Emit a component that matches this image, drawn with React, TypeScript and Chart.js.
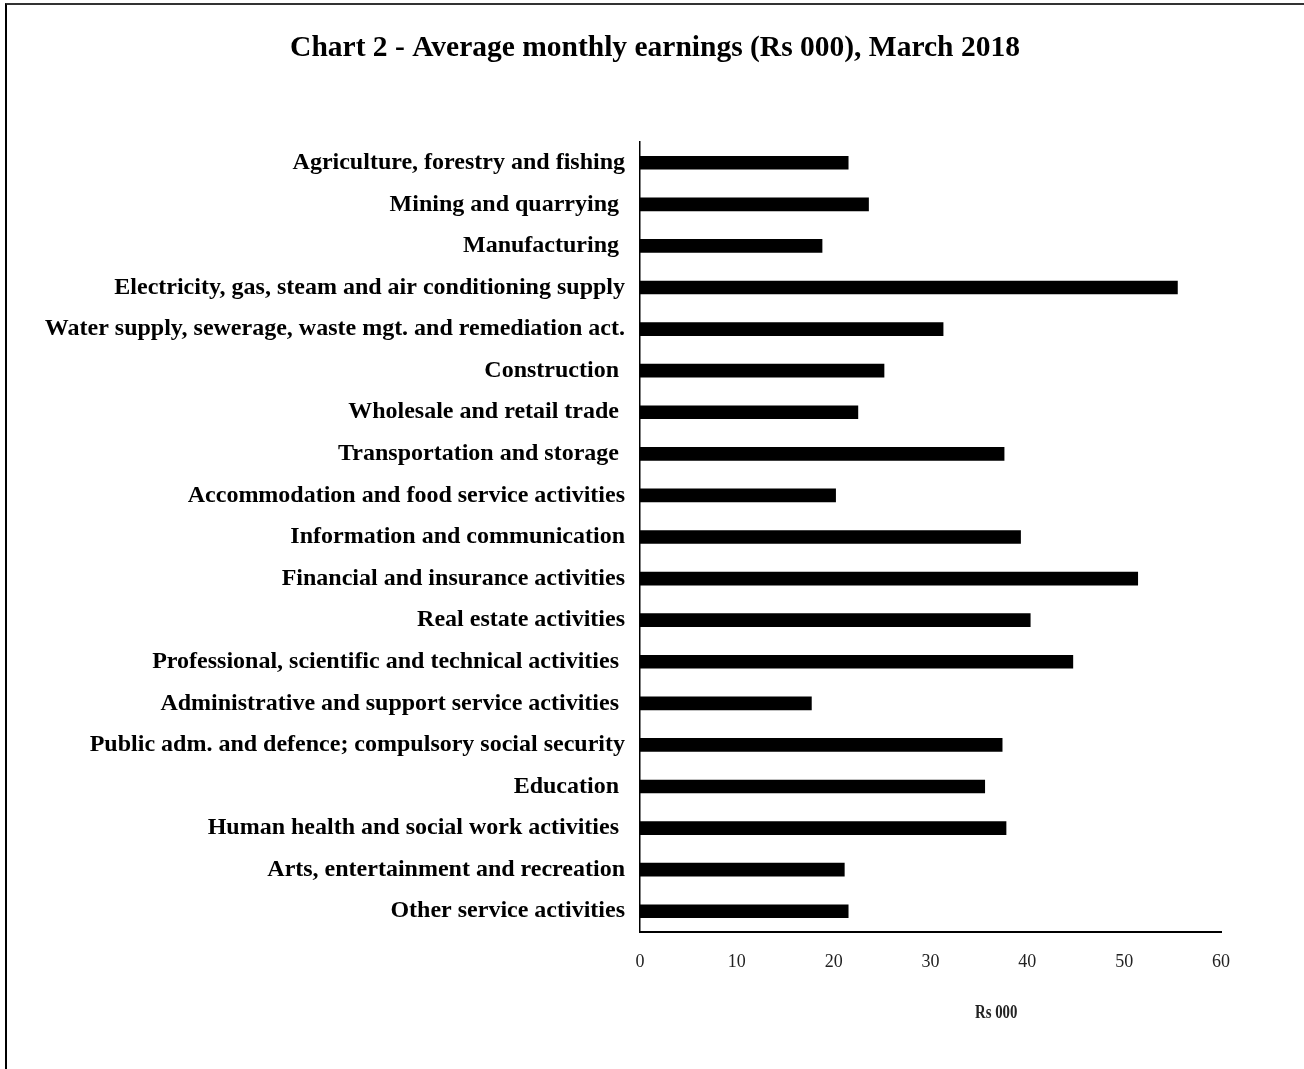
import React, { useEffect, useRef } from "react";
import { Chart, registerables } from "chart.js";

Chart.register(...registerables);

const TITLE = "Chart 2 - Average monthly earnings (Rs 000), March 2018";
const AXIS_TITLE = "Rs 000";

const categories: string[] = [
  "Agriculture, forestry and fishing",
  "Mining and quarrying ",
  "Manufacturing ",
  "Electricity, gas, steam and air conditioning supply",
  "Water supply, sewerage, waste mgt. and remediation act.",
  "Construction ",
  "Wholesale and retail trade ",
  "Transportation and storage ",
  "Accommodation and food service activities",
  "Information and communication",
  "Financial and insurance activities",
  "Real estate activities",
  "Professional, scientific and technical activities ",
  "Administrative and support service activities ",
  "Public adm. and defence; compulsory social security",
  "Education ",
  "Human health and social work activities ",
  "Arts, entertainment and recreation",
  "Other service activities",
];

const earnings: number[] = [
  21.5, 23.6, 18.8, 55.5, 31.3, 25.2, 22.5, 37.6, 20.2, 39.3, 51.4, 40.3, 44.7,
  17.7, 37.4, 35.6, 37.8, 21.1, 21.5,
];

const xTicks: number[] = [0, 10, 20, 30, 40, 50, 60];

const SERIF = "'Liberation Serif', 'Times New Roman', serif";

const textPlugin = {
  id: "extraText",
  afterDraw(chart: any) {
    const { ctx, chartArea } = chart;
    ctx.save();
    ctx.font = `bold 29.5px ${SERIF}`;
    ctx.fillStyle = "#000";
    ctx.textAlign = "center";
    ctx.textBaseline = "middle";
    ctx.fillText(TITLE, 655, 48);
    ctx.restore();

    ctx.save();
    ctx.font = `bold 19px ${SERIF}`;
    ctx.fillStyle = "#222";
    ctx.textAlign = "center";
    ctx.textBaseline = "middle";
    const x = chartArea.left + (chartArea.right - chartArea.left) * 0.613;
    ctx.translate(x, chartArea.bottom + 81);
    ctx.scale(0.78, 1);
    ctx.fillText(AXIS_TITLE, 0, 0);
    ctx.restore();
  },
};

export default function App() {
  const canvasRef = useRef<HTMLCanvasElement | null>(null);

  useEffect(() => {
    if (!canvasRef.current) return;
    const chart = new Chart(canvasRef.current, {
      type: "bar",
      data: {
        labels: categories,
        datasets: [
          {
            data: earnings,
            backgroundColor: "#000",
            borderWidth: 0,
            barThickness: 13,
          },
        ],
      },
      options: {
        indexAxis: "y",
        animation: false,
        responsive: false,
        devicePixelRatio: 1,
        layout: { padding: { left: 0, right: 83, top: 142, bottom: 0 } },
        plugins: {
          legend: { display: false },
          tooltip: { enabled: false },
          title: { display: false },
        },
        scales: {
          x: {
            type: "linear",
            min: 0,
            max: 60,
            afterBuildTicks: (scale: any) => {
              scale.ticks = xTicks.map((v) => ({ value: v }));
            },
            afterFit: (scale: any) => {
              scale.height = 137;
            },
            grid: { display: false, drawTicks: false },
            border: { display: true, color: "#000", width: 2 },
            ticks: {
              color: "#222",
              padding: 19,
              font: { family: SERIF, size: 18 },
            },
          },
          y: {
            type: "category",
            afterFit: (scale: any) => {
              scale.width = 640;
            },
            grid: { display: false, drawTicks: false },
            border: { display: true, color: "#000", width: 1.5 },
            ticks: {
              color: "#000",
              padding: 15,
              autoSkip: false,
              font: { family: SERIF, size: 24, weight: "bold" },
            },
          },
        },
      },
      plugins: [textPlugin],
    });
    return () => chart.destroy();
  }, []);

  return (
    <div
      style={{
        position: "absolute",
        left: 0,
        top: 0,
        width: 1304,
        height: 1069,
        background: "#fff",
        overflow: "hidden",
      }}
    >
      <div
        style={{
          position: "absolute",
          left: 5,
          top: 3,
          width: 1299,
          height: 1066,
          borderLeft: "2px solid #000",
          borderTop: "2px solid #333",
          boxSizing: "border-box",
        }}
      />
      <canvas
        ref={canvasRef}
        width={1304}
        height={1069}
        style={{ position: "absolute", left: 0, top: 0, width: 1304, height: 1069 }}
      />
    </div>
  );
}
